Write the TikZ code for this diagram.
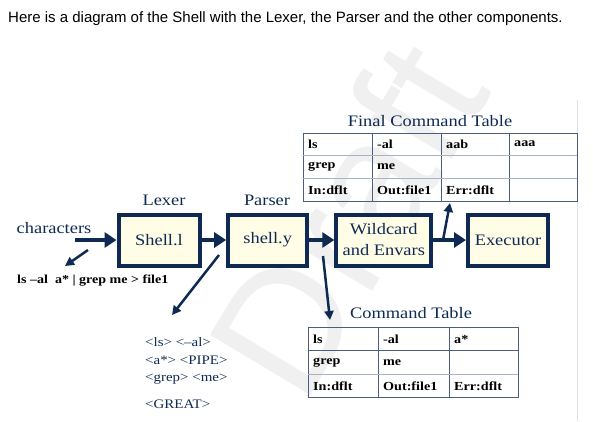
\documentclass[tikz,border=0pt]{standalone}
\usepackage{fontspec}
\usetikzlibrary{arrows.meta}
\setmainfont{Liberation Serif}
\newfontfamily\hdr{Liberation Sans}
\newfontfamily\wser[FakeStretch=1.15]{Liberation Serif}
\definecolor{navy}{HTML}{0E2A52}
\definecolor{boxfill}{HTML}{FFFDE6}
\definecolor{tline}{HTML}{4A5E7E}
\definecolor{tlight}{HTML}{A8B4C6}
\begin{document}
\begin{tikzpicture}[x=1pt,y=-1pt,
  cell/.style={anchor=west, inner sep=0pt, font=\wser\bfseries\fontsize{12.3}{14}\selectfont, text=black},
  comp/.style={draw=navy, line width=4pt, fill=boxfill, text=navy, font=\wser\fontsize{16}{21}\selectfont, align=center, inner sep=0pt, minimum height=51pt},
  lbl/.style={text=navy, font=\wser\fontsize{16}{20}\selectfont, inner sep=0pt},
  bigarrow/.style={navy, line width=4pt, -{Triangle[length=12pt,width=15pt]}},
  thinarrow/.style={navy, line width=2.5pt, -{Triangle[length=9pt,width=9pt]}},
  tok/.style={anchor=base west, inner sep=0pt, text=navy, font=\wser\fontsize{13}{15}\selectfont},
  grid/.style={tline, line width=0.9pt},
  gridlight/.style={tlight, line width=0.9pt},
]
\useasboundingbox (0,0) rectangle (593,421);
% watermark
\node[rotate=59, text=black!6, font=\hdr\fontsize{170}{170}\selectfont, inner sep=0pt] (wm) at (346,218) {Draft};
\draw[black!12, line width=0.8pt] (577,100) -- (577,421);

% header
\node[anchor=base west, inner sep=0pt, font=\hdr\fontsize{15}{17}\selectfont] (hdr) at (8,22) {Here is a diagram of the Shell with the Lexer, the Parser and the other components.};

% Final command table
\node[lbl, anchor=base] (ftitle) at (430,126.7) {Final Command Table};
\draw[grid] (303,133) rectangle (577,201.7);
\foreach \x in {372,441,509} \draw[grid] (\x,133) -- (\x,201.7);
\draw[gridlight] (303,155) -- (577,155);
\draw[gridlight] (303,178) -- (577,178);
\node[cell] (f11) at (308,144) {ls};
\node[cell] (f12) at (377,144) {-al};
\node[cell] (f13) at (446,144) {aab};
\node[cell] (f14) at (514,144) {aaa};
\node[cell] (f21) at (308,166.5) {grep};
\node[cell] (f22) at (377,166.5) {me};
\node[cell] (f31) at (308,190) {In:dflt};
\node[cell] (f32) at (377,190) {Out:file1};
\node[cell] (f33) at (446,190) {Err:dflt};

% Command table
\node[lbl, anchor=base] (ctitle) at (411,318) {Command Table};
\draw[grid] (308,327.3) rectangle (518,397.7);
\foreach \x in {378,449} \draw[grid] (\x,327.3) -- (\x,397.7);
\draw[grid] (308,350.7) -- (518,350.7);
\draw[gridlight] (308,374) -- (518,374);
\node[cell] (c11) at (313,339) {ls};
\node[cell] (c12) at (383,339) {-al};
\node[cell] (c13) at (454,339) {a*};
\node[cell] (c21) at (313,362.3) {grep};
\node[cell] (c22) at (383,362.3) {me};
\node[cell] (c31) at (313,386) {In:dflt};
\node[cell] (c32) at (383,386) {Out:file1};
\node[cell] (c33) at (454,386) {Err:dflt};

% components
\node[comp, minimum width=81pt] (lex) at (159,240) {Shell.l};
\node[comp, minimum width=79pt] (par) at (267.7,240) {shell.y};
\node[comp, minimum width=95pt] (wild) at (383.8,240) {Wildcard\\and Envars};
\node[comp, minimum width=80pt] (exec) at (508,240) {Executor};
\node[lbl] (lexl) at (164,200) {Lexer};
\node[lbl] (parl) at (267,200) {Parser};
\node[lbl] (chars) at (54,228) {characters};

% arrows
\coordinate (cin) at (75,240);
\draw[bigarrow] (cin) -- (lex.west);
\draw[bigarrow] (lex.east) -- (par.west);
\draw[bigarrow] (par.east) -- (wild.west);
\draw[bigarrow] (wild.east) -- (exec.west);
\coordinate (upst) at (443,240);
\coordinate (uptip) at (450,203);
\draw[thinarrow] (upst) -- (uptip);
\coordinate (dnst) at (323,256);
\coordinate (dntip) at (330,320);
\draw[thinarrow] (dnst) -- (dntip);
\coordinate (sdst) at (88,250);
\coordinate (sdtip) at (65,266);
\draw[thinarrow] (sdst) -- (sdtip);
\coordinate (ldst) at (219,255);
\coordinate (ldtip) at (172,315);
\draw[thinarrow] (ldst) -- (ldtip);

% texts
\node[anchor=base west, inner sep=0pt, font=\wser\bfseries\fontsize{12.2}{14}\selectfont] (cmdline) at (17,283) {ls \textendash al~~a* | grep me > file1};
\node[tok] (t1) at (145,346) {<ls> <\textendash al>};
\node[tok] (t2) at (145,364) {<a*> <PIPE>};
\node[tok] (t3) at (145,381) {<grep> <me>};
\node[tok] (t4) at (145,408) {<GREAT>};
\end{tikzpicture}
\end{document}
